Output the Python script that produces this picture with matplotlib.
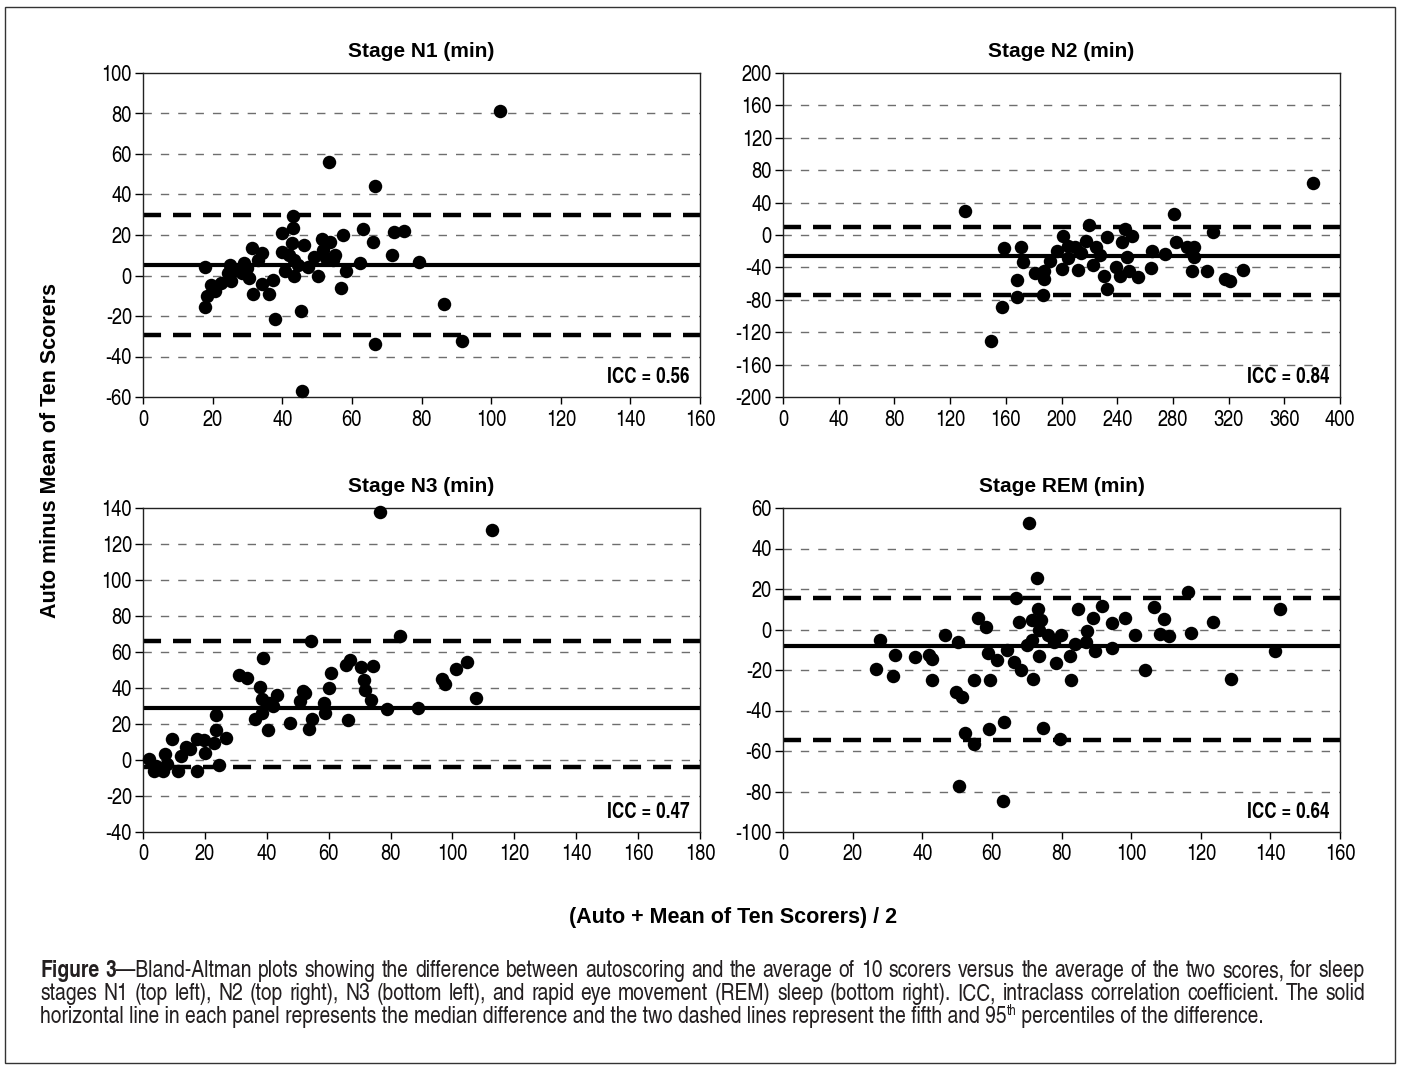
import matplotlib
matplotlib.use("Agg")
import matplotlib.pyplot as plt
from matplotlib.patches import Rectangle

# condensed Helvetica clone stands in for Arial Narrow (ticks, ICC, caption);
# titles and axis labels are plain Arial-width bold
plt.rcParams["font.family"] = ["TeX Gyre Heros Cn", "Liberation Sans", "DejaVu Sans"]
plt.rcParams["lines.scale_dashes"] = False
plt.rcParams["axes.unicode_minus"] = False
WIDE = ["Liberation Sans", "DejaVu Sans"]

W, H, DPI = 1401, 1070, 100

# ---- data ----
n1_x = [102.5, 53.4, 66.6, 43.1, 43.1, 39.8, 63.1, 57.5, 72.1, 75.0, 66.1, 51.3,
        53.7, 46.2, 31.3, 34.1, 39.8, 42.9, 51.6, 55.2, 71.6, 79.2, 62.4, 52.6,
        54.7, 47.5, 43.4, 17.9, 24.9, 29.0, 24.4, 28.5, 30.5, 33.1, 40.8, 43.4,
        50.3, 58.3, 19.5, 22.3, 25.4, 34.1, 37.2, 20.8, 18.5, 31.6, 36.2, 56.8,
        17.9, 45.3, 37.8, 86.5, 66.6, 91.5, 45.7, 26.5, 30.0, 42.0, 44.5, 49.0]
n1_y = [81.3, 56.2, 44.4, 29.2, 23.4, 21.0, 23.0, 20.2, 21.5, 22.1, 16.4, 18.0,
        16.4, 15.2, 13.4, 11.1, 11.6, 16.1, 12.8, 10.3, 10.3, 6.9, 6.2, 8.7,
        7.9, 4.3, 7.9, 4.3, 5.4, 6.2, 1.3, 1.3, -1.1, 7.9, 2.1, -0.3,
        -0.3, 2.1, -4.9, -3.6, -2.8, -4.4, -2.0, -7.7, -10.2, -9.0, -9.3, -6.2,
        -15.4, -17.5, -21.6, -13.9, -33.6, -32.3, -57.2, 2.5, 3.5, 10.0, 5.0, 9.0]

n2_x = [380.3, 130.7, 281.0, 219.9, 245.8, 250.5, 308.7, 201.3, 217.3, 232.9,
        243.2, 282.0, 289.8, 295.0, 158.6, 170.8, 196.6, 204.4, 209.6, 225.1,
        265.2, 274.2, 295.0, 247.1, 191.5, 172.0, 200.5, 212.2, 222.5, 239.3,
        248.4, 254.8, 241.9, 264.4, 230.3, 181.1, 187.6, 187.6, 293.7, 304.8,
        317.7, 320.8, 330.4, 168.2, 232.9, 168.2, 186.8, 157.0, 149.3, 214.0,
        228.0, 205.0]
n2_y = [63.7, 30.0, 25.9, 12.3, 7.4, -0.8, 3.3, -0.8, -7.0, -2.0,
        -9.0, -9.0, -14.4, -15.2, -16.4, -14.4, -19.3, -13.1, -15.2, -15.2,
        -19.3, -23.4, -27.5, -27.5, -31.6, -33.7, -41.9, -42.7, -36.6, -39.8,
        -44.8, -52.2, -50.1, -40.7, -50.1, -47.2, -44.8, -54.2, -43.9, -43.9,
        -54.2, -56.3, -42.7, -55.0, -66.5, -76.0, -74.0, -88.3, -131.4, -22.0,
        -25.0, -28.0]

n3_x = [76.5, 112.7, 83.1, 54.3, 38.8, 67.0, 65.5, 70.5, 74.4, 104.6, 101.3,
        60.9, 31.0, 33.5, 96.7, 97.5, 71.3, 71.9, 60.0, 73.6, 107.5, 37.8,
        43.3, 38.4, 40.7, 51.6, 52.5, 50.8, 58.6, 58.8, 79.0, 88.8, 23.6,
        38.4, 36.3, 47.6, 54.5, 66.1, 53.7, 40.4, 23.6, 26.8, 23.1, 9.5,
        17.6, 19.6, 15.3, 19.9, 12.4, 7.2, 2.0, 7.7, 3.5, 6.6, 11.2, 17.3,
        24.7, 4.3, 42.0, 14.0]
n3_y = [137.7, 127.5, 69.0, 65.9, 56.6, 55.7, 52.9, 51.8, 52.3, 54.7, 50.8,
        48.1, 47.3, 45.8, 44.9, 42.1, 44.5, 38.8, 39.9, 33.2, 34.3, 40.8,
        36.2, 33.8, 31.9, 38.4, 37.5, 32.8, 31.4, 26.0, 28.2, 29.1, 25.0,
        26.3, 22.6, 20.4, 22.6, 22.1, 17.1, 16.7, 16.7, 12.4, 9.3, 11.5,
        11.5, 11.1, 5.9, 4.1, 2.2, 3.2, 0.4, -2.4, -6.1, -6.1, -6.1, -6.1,
        -3.0, -3.3, 30.0, 7.0]

rem_x = [70.7, 72.9, 66.9, 116.2, 142.9, 91.5, 84.8, 106.5, 73.3, 56.0, 89.1,
         98.2, 109.5, 67.9, 71.6, 74.1, 94.6, 123.6, 58.4, 87.4, 117.3, 73.4,
         76.2, 79.8, 101.2, 108.3, 110.9, 46.5, 28.0, 50.2, 71.6, 77.8, 83.8,
         86.9, 70.0, 64.3, 89.7, 94.5, 141.2, 58.8, 32.3, 37.9, 41.9, 42.8,
         73.4, 82.5, 61.5, 66.4, 78.5, 68.5, 26.8, 31.5, 103.9, 42.8, 55.0,
         59.5, 71.9, 82.6, 128.8, 49.8, 51.4, 63.6, 59.1, 74.6, 52.4, 55.0,
         79.6, 50.6, 63.3]
rem_y = [52.4, 25.2, 15.7, 18.3, 9.9, 11.7, 10.0, 10.9, 10.0, 5.9, 5.9,
         5.8, 5.1, 3.5, 4.6, 4.6, 3.0, 3.8, 1.0, -0.8, -1.5, -0.3,
         -2.8, -2.8, -2.8, -2.3, -3.3, -2.5, -5.3, -6.4, -5.3, -6.1, -7.2,
         -6.4, -7.7, -9.9, -10.5, -9.1, -10.5, -11.4, -12.4, -13.8, -12.4, -14.7,
         -13.0, -13.0, -15.2, -16.0, -16.5, -20.1, -19.3, -22.9, -20.1, -25.0, -25.0,
         -25.0, -24.2, -25.0, -24.2, -30.8, -33.3, -45.6, -49.3, -48.4, -50.9, -56.3,
         -54.2, -77.3, -84.8]

titles = ["Stage N1 (min)", "Stage N2 (min)", "Stage N3 (min)", "Stage REM (min)"]
medians = [5.1, -26.3, 28.8, -8.1]
p5 = [-29.5, -74.0, -3.9, -54.7]
p95 = [30.0, 10.3, 65.9, 15.8]
icc = ["0.56", "0.84", "0.47", "0.64"]
xticks = [range(0, 161, 20), range(0, 401, 40), range(0, 181, 20), range(0, 161, 20)]
yticks = [range(-60, 101, 20), range(-200, 201, 40), range(-40, 141, 20), range(-100, 61, 20)]

# panel rectangles in pixels: left, top, right, bottom
rects = [(143, 73, 700, 397), (783, 73, 1340, 397),
         (143, 508, 700, 832), (783, 508, 1340, 832)]

xs = [n1_x, n2_x, n3_x, rem_x]
ys = [n1_y, n2_y, n3_y, rem_y]

fig = plt.figure(figsize=(W / DPI, H / DPI), dpi=DPI, facecolor="white")

for i in range(4):
    l, t, r, b = rects[i]
    ax = fig.add_axes((l / W, 1 - b / H, (r - l) / W, (b - t) / H))
    xt, yt = list(xticks[i]), list(yticks[i])
    ax.set_xlim(xt[0], xt[-1])
    ax.set_ylim(yt[0], yt[-1])
    ax.set_xticks(xt)
    ax.set_yticks(yt)
    for g in yt[1:-1]:
        ax.axhline(g, color="#6e6e6e", lw=1.0, dashes=(6, 6.5), zorder=1)
    ax.axhline(medians[i], color="black", lw=3.0, zorder=2)
    ax.axhline(p5[i], color="black", lw=3.2, dashes=(13, 8.6), zorder=2)
    ax.axhline(p95[i], color="black", lw=3.2, dashes=(13, 8.6), zorder=2)
    ax.plot(xs[i], ys[i], "o", color="black", ms=9.7, mew=0, zorder=3, clip_on=False)
    for s in ax.spines.values():
        s.set_linewidth(1.0)
        s.set_color("#222222")
    ax.tick_params(axis="x", direction="out", length=5, width=1, pad=4, labelsize=16)
    ax.tick_params(axis="y", direction="out", length=6, width=1, pad=2, labelsize=16)
    # title baseline sits 16 px above the frame
    ax.text(0.5, 1 + 16.3 / (b - t), titles[i], transform=ax.transAxes, ha="center",
            va="baseline", fontsize=15, fontweight="bold", family=WIDE)
    ax.text(0.982, 0.06, f"ICC = {icc[i]}", transform=ax.transAxes, ha="right",
            va="center", fontsize=15, fontweight="bold")

fig.text(50 / W, 1 - 451 / H, "Auto minus Mean of Ten Scorers", rotation=90,
         ha="center", va="center", fontsize=15.5, fontweight="bold", family=WIDE)
fig.text(733 / W, 1 - 923 / H, "(Auto + Mean of Ten Scorers) / 2",
         ha="center", va="baseline", fontsize=15.5, fontweight="bold", family=WIDE)

# outer frame
fig.add_artist(Rectangle((5 / W, 1 - 1063 / H), 1390 / W, 1056 / H, fill=False,
                         lw=1.0, edgecolor="#333333", transform=fig.transFigure))

renderer = fig.canvas.get_renderer()


def run_width(s, style, fs):
    size = fs * 0.6 if style == "sup" else fs
    t = fig.text(0, 0, s, fontsize=size,
                 fontweight="bold" if style == "bold" else "normal")
    w = t.get_window_extent(renderer).width
    t.remove()
    return w


def words(text, style="normal"):
    return [[(w, style)] for w in text.split()]


# ---- caption: first two lines justified word by word ----
cap_lines = [
    [[("Figure", "bold")], [("3", "bold"), ("\u2014Bland-Altman", "normal")]]
    + words("plots showing the difference between autoscoring and the average of "
            "10 scorers versus the average of the two scores, for sleep"),
    words("stages N1 (top left), N2 (top right), N3 (bottom left), and rapid eye "
          "movement (REM) sleep (bottom right). ICC, intraclass correlation "
          "coefficient. The solid"),
]
last_a = ("horizontal line in each panel represents the median difference and the "
          "two dashed lines represent the fifth and 95")
last_b = " percentiles of the difference."
cap_left, cap_right, last_end = 40, 1365, 1270
baselines = [977, 1000, 1023]

# size chosen so the last (ragged) line ends where the reference's does
fs0 = 11.0
nat = run_width(last_a, "normal", fs0) + run_width("th", "sup", fs0) + run_width(last_b, "normal", fs0)
fs = fs0 * (last_end - cap_left) / nat

for li, line in enumerate(cap_lines):
    widths = [sum(run_width(s, st, fs) for s, st in w) for w in line]
    gap = (cap_right - cap_left - sum(widths)) / (len(line) - 1)
    x = cap_left
    for word, ww in zip(line, widths):
        xx = x
        for s, st in word:
            fig.text(xx / W, 1 - baselines[li] / H, s, fontsize=fs,
                     fontweight="bold" if st == "bold" else "normal",
                     ha="left", va="baseline", color="#231f20")
            xx += run_width(s, st, fs)
        x += ww + gap

x = cap_left
for s, st in [(last_a, "normal"), ("th", "sup"), (last_b, "normal")]:
    size = fs * 0.6 if st == "sup" else fs
    yoff = fs * 0.5 if st == "sup" else 0
    fig.text(x / W, 1 - (baselines[2] - yoff) / H, s, fontsize=size,
             ha="left", va="baseline", color="#231f20")
    x += run_width(s, st, fs)

fig.savefig("out.png", dpi=DPI, facecolor="white")
